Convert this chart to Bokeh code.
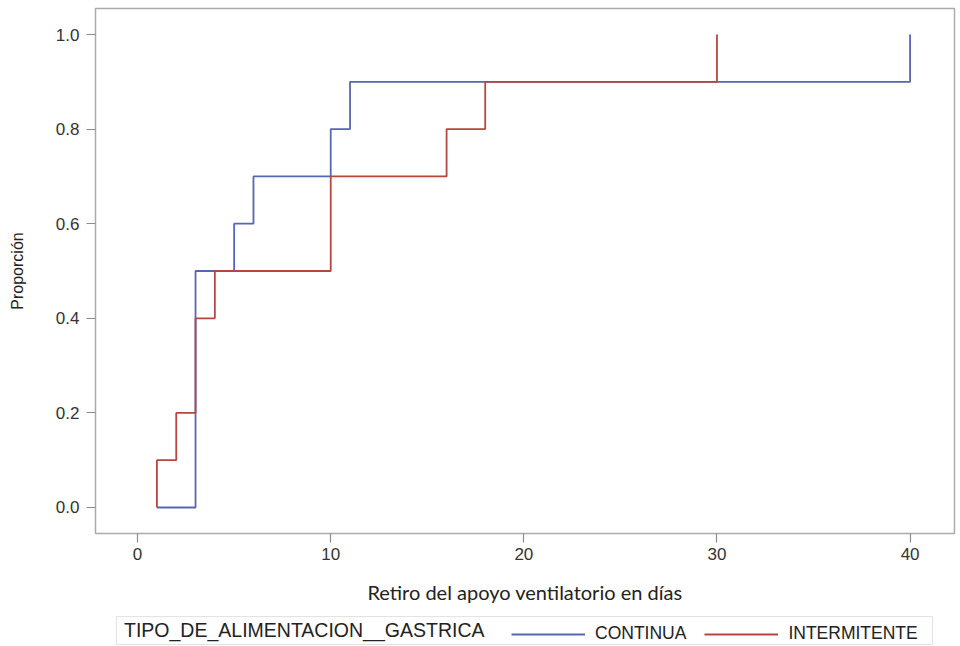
from bokeh.plotting import figure
from bokeh.layouts import column
from bokeh.models import Legend, LegendItem, FixedTicker, NumeralTickFormatter, Range1d
from bokeh.embed import file_html
from bokeh.resources import INLINE

# Data
dias_continua = [1, 3, 5, 6, 10, 11, 40]
prop_continua = [0.0, 0.5, 0.6, 0.7, 0.8, 0.9, 1.0]
dias_intermitente = [1, 1, 2, 3, 4, 10, 16, 18, 30]
prop_intermitente = [0.0, 0.1, 0.2, 0.4, 0.5, 0.7, 0.8, 0.9, 1.0]
x_ticks = [0, 10, 20, 30, 40]
y_ticks = [0.0, 0.2, 0.4, 0.6, 0.8, 1.0]
series_names = ["CONTINUA", "INTERMITENTE"]
legend_title = "TIPO_DE_ALIMENTACION__GASTRICA"

BLUE = "#5467b4"
RED = "#b9463e"

p = figure(width=960, height=610, output_backend="svg", toolbar_location=None,
           x_range=Range1d(-2.18, 42.3), y_range=Range1d(-0.055, 1.055),
           min_border_left=95, min_border_right=6, min_border_top=8, min_border_bottom=77)

p.step(dias_continua, prop_continua, mode="after", line_color=BLUE, line_width=1.8)
p.step(dias_intermitente, prop_intermitente, mode="after", line_color=RED, line_width=1.8)

p.xgrid.visible = False
p.ygrid.visible = False
p.outline_line_color = "#ababab"
p.outline_line_width = 1.5

for ax in (p.xaxis[0], p.yaxis[0]):
    ax.axis_line_color = None
    ax.major_tick_line_color = "#8c8c8c"
    ax.major_tick_line_width = 1.2
    ax.major_tick_out = 9
    ax.major_tick_in = 0
    ax.minor_tick_line_color = None
    ax.major_label_text_font = "Liberation Sans"
    ax.major_label_text_font_size = "17px"
    ax.major_label_text_color = "#333333"
    ax.axis_label_text_font_style = "normal"
    ax.axis_label_text_color = "#222222"

p.xaxis.ticker = FixedTicker(ticks=x_ticks)
p.yaxis.ticker = FixedTicker(ticks=y_ticks)
p.yaxis.formatter = NumeralTickFormatter(format="0.0")
p.xaxis.major_label_standoff = 5
p.yaxis.major_label_standoff = 7

p.xaxis.axis_label = "Retiro del apoyo ventilatorio en días"
p.xaxis.axis_label_text_font = "Lato"
p.xaxis.axis_label_text_font_size = "20px"
p.xaxis.axis_label_standoff = 17

p.yaxis.axis_label = "Proporción"
p.yaxis.axis_label_text_font = "Liberation Sans"
p.yaxis.axis_label_text_font_size = "16px"
p.yaxis.axis_label_standoff = 27

# ---- legend strip below the chart ----
lf = figure(width=960, height=36, output_backend="svg", toolbar_location=None,
            x_range=Range1d(-2.18, 42.3), y_range=Range1d(-0.055, 1.055),
            x_axis_location=None, y_axis_location=None,
            min_border_left=95, min_border_right=6, min_border_top=0, min_border_bottom=0)
lf.xgrid.visible = False
lf.ygrid.visible = False
lf.outline_line_color = None

# legend-only renderers (hidden in this strip, drawn only as legend samples)
r_dummy = lf.line(x=[], y=[], line_alpha=0)
r_blue = lf.step(dias_continua, prop_continua, mode="after", line_color=BLUE, line_width=1.8, visible=False)
r_red = lf.step(dias_intermitente, prop_intermitente, mode="after", line_color=RED, line_width=1.8, visible=False)

legend_box = Legend(items=[LegendItem(label=legend_title, renderers=[r_dummy])],
                    orientation="horizontal", location=(21, 1))
legend_box.label_text_font = "Liberation Sans"
legend_box.label_text_font_size = "19.5px"
legend_box.label_text_color = "#222222"
legend_box.padding = 2
legend_box.margin = 0
legend_box.glyph_width = 0
legend_box.label_standoff = 5
legend_box.label_width = 806
legend_box.border_line_color = "#c8c8c8"
legend_box.border_line_width = 1.5
lf.add_layout(legend_box, "center")

legend_series = Legend(items=[LegendItem(label=series_names[0], renderers=[r_blue]),
                              LegendItem(label=series_names[1], renderers=[r_red])],
                       orientation="horizontal", location=(416, 2))
legend_series.label_text_font = "Liberation Sans"
legend_series.label_text_font_size = "17.5px"
legend_series.label_text_color = "#222222"
legend_series.padding = 2
legend_series.margin = 0
legend_series.glyph_width = 74
legend_series.label_standoff = 10
legend_series.spacing = 18
legend_series.border_line_color = None
legend_series.background_fill_alpha = 0
lf.add_layout(legend_series, "center")

layout = column(p, lf, spacing=0)
open("out.html", "w").write(file_html(layout, INLINE))
